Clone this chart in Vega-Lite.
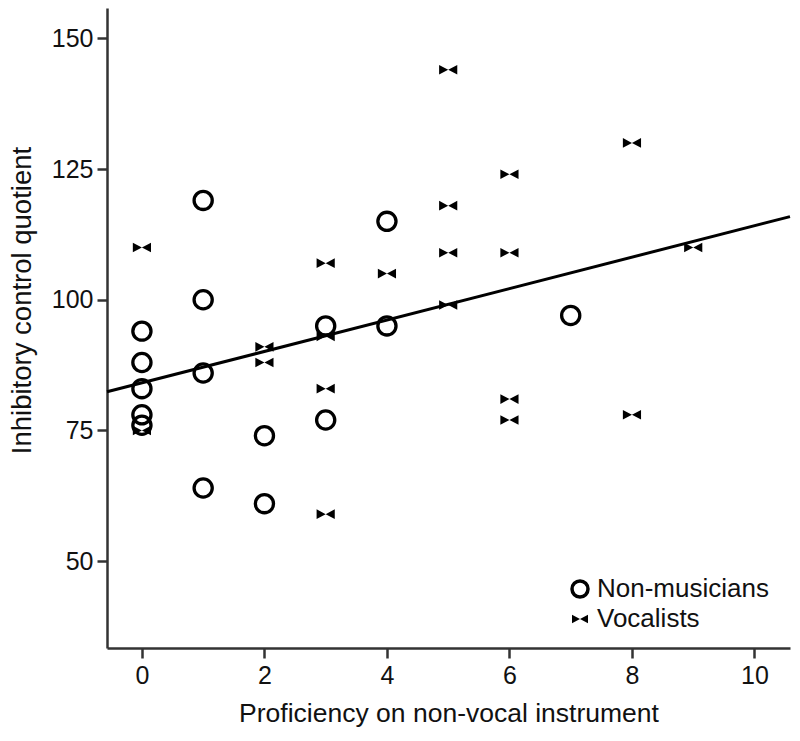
{
  "$schema": "https://vega.github.io/schema/vega-lite/v6.json",
  "width": 683,
  "height": 640,
  "autosize": {"type": "none"},
  "padding": {"left": 107, "top": 8, "right": 10, "bottom": 93},
  "background": "white",
  "config": {
    "view": {"stroke": null},
    "font": "Liberation Sans",
    "axis": {
      "grid": false,
      "domainColor": "#333333",
      "domainWidth": 2.5,
      "tickColor": "#333333",
      "tickWidth": 2.5,
      "tickSize": 10,
      "labelFont": "Liberation Sans",
      "labelFontSize": 25,
      "labelColor": "#111111",
      "titleFont": "Liberation Sans",
      "titleFontSize": 26.5,
      "titleFontWeight": "normal",
      "titleColor": "#111111"
    }
  },
  "datasets": {
    "points": [
      {"x": 0, "y": 94, "group": "Non-musicians"},
      {"x": 0, "y": 88, "group": "Non-musicians"},
      {"x": 0, "y": 83, "group": "Non-musicians"},
      {"x": 0, "y": 78, "group": "Non-musicians"},
      {"x": 0, "y": 76, "group": "Non-musicians"},
      {"x": 1, "y": 119, "group": "Non-musicians"},
      {"x": 1, "y": 100, "group": "Non-musicians"},
      {"x": 1, "y": 86, "group": "Non-musicians"},
      {"x": 1, "y": 64, "group": "Non-musicians"},
      {"x": 2, "y": 74, "group": "Non-musicians"},
      {"x": 2, "y": 61, "group": "Non-musicians"},
      {"x": 3, "y": 95, "group": "Non-musicians"},
      {"x": 3, "y": 77, "group": "Non-musicians"},
      {"x": 4, "y": 115, "group": "Non-musicians"},
      {"x": 4, "y": 95, "group": "Non-musicians"},
      {"x": 7, "y": 97, "group": "Non-musicians"},
      {"x": 0, "y": 110, "group": "Vocalists"},
      {"x": 0, "y": 75, "group": "Vocalists"},
      {"x": 2, "y": 91, "group": "Vocalists"},
      {"x": 2, "y": 88, "group": "Vocalists"},
      {"x": 3, "y": 107, "group": "Vocalists"},
      {"x": 3, "y": 93, "group": "Vocalists"},
      {"x": 3, "y": 83, "group": "Vocalists"},
      {"x": 3, "y": 59, "group": "Vocalists"},
      {"x": 4, "y": 105, "group": "Vocalists"},
      {"x": 5, "y": 144, "group": "Vocalists"},
      {"x": 5, "y": 118, "group": "Vocalists"},
      {"x": 5, "y": 109, "group": "Vocalists"},
      {"x": 5, "y": 99, "group": "Vocalists"},
      {"x": 6, "y": 124, "group": "Vocalists"},
      {"x": 6, "y": 109, "group": "Vocalists"},
      {"x": 6, "y": 81, "group": "Vocalists"},
      {"x": 6, "y": 77, "group": "Vocalists"},
      {"x": 8, "y": 130, "group": "Vocalists"},
      {"x": 8, "y": 78, "group": "Vocalists"},
      {"x": 9, "y": 110, "group": "Vocalists"}
    ],
    "fit": [
      {"x": -0.57, "y": 82.4},
      {"x": 10.58, "y": 115.9}
    ]
  },
  "layer": [
    {
      "data": {"name": "points"},
      "mark": {"type": "point", "size": 330, "strokeWidth": 3.3, "opacity": 1},
      "encoding": {
        "x": {
          "field": "x", "type": "quantitative",
          "scale": {"domain": [-0.57, 10.58], "nice": false, "zero": false},
          "axis": {"values": [0, 2, 4, 6, 8, 10], "format": "d", "title": "Proficiency on non-vocal instrument", "labelPadding": 5, "titlePadding": 12}
        },
        "y": {
          "field": "y", "type": "quantitative",
          "scale": {"domain": [33.4, 155.8], "nice": false, "zero": false},
          "axis": {"values": [50, 75, 100, 125, 150], "format": "d", "title": "Inhibitory control quotient", "titleFontSize": 27.5, "labelPadding": 4, "titlePadding": 15, "titleY": 292}
        },
        "shape": {
          "field": "group", "type": "nominal",
          "scale": {"domain": ["Non-musicians", "Vocalists"], "range": ["circle", "M-1,-0.53L0,0L-1,0.53ZM1,-0.53L0,0L1,0.53Z"]},
          "legend": {
            "title": null, "orient": "none", "legendX": 460, "legendY": 568,
            "labelFontSize": 26, "labelFont": "Liberation Sans", "labelColor": "#111111", "labelLimit": 400,
            "symbolSize": 256, "symbolStrokeWidth": 3.5, "labelOffset": 4, "rowPadding": 2
          }
        },
        "fill": {
          "field": "group", "type": "nominal",
          "scale": {"domain": ["Non-musicians", "Vocalists"], "range": ["transparent", "black"]},
          "legend": {
            "title": null, "orient": "none", "legendX": 460, "legendY": 568,
            "labelFontSize": 26, "labelFont": "Liberation Sans", "labelColor": "#111111", "labelLimit": 400,
            "symbolSize": 256, "symbolStrokeWidth": 3.5, "labelOffset": 4, "rowPadding": 2
          }
        },
        "stroke": {
          "field": "group", "type": "nominal",
          "scale": {"domain": ["Non-musicians", "Vocalists"], "range": ["black", "transparent"]},
          "legend": {
            "title": null, "orient": "none", "legendX": 460, "legendY": 568,
            "labelFontSize": 26, "labelFont": "Liberation Sans", "labelColor": "#111111", "labelLimit": 400,
            "symbolSize": 256, "symbolStrokeWidth": 3.5, "labelOffset": 4, "rowPadding": 2
          }
        }
      }
    },
    {
      "data": {"name": "fit"},
      "mark": {"type": "line", "color": "black", "strokeWidth": 3},
      "encoding": {
        "x": {"field": "x", "type": "quantitative"},
        "y": {"field": "y", "type": "quantitative"}
      }
    }
  ]
}
